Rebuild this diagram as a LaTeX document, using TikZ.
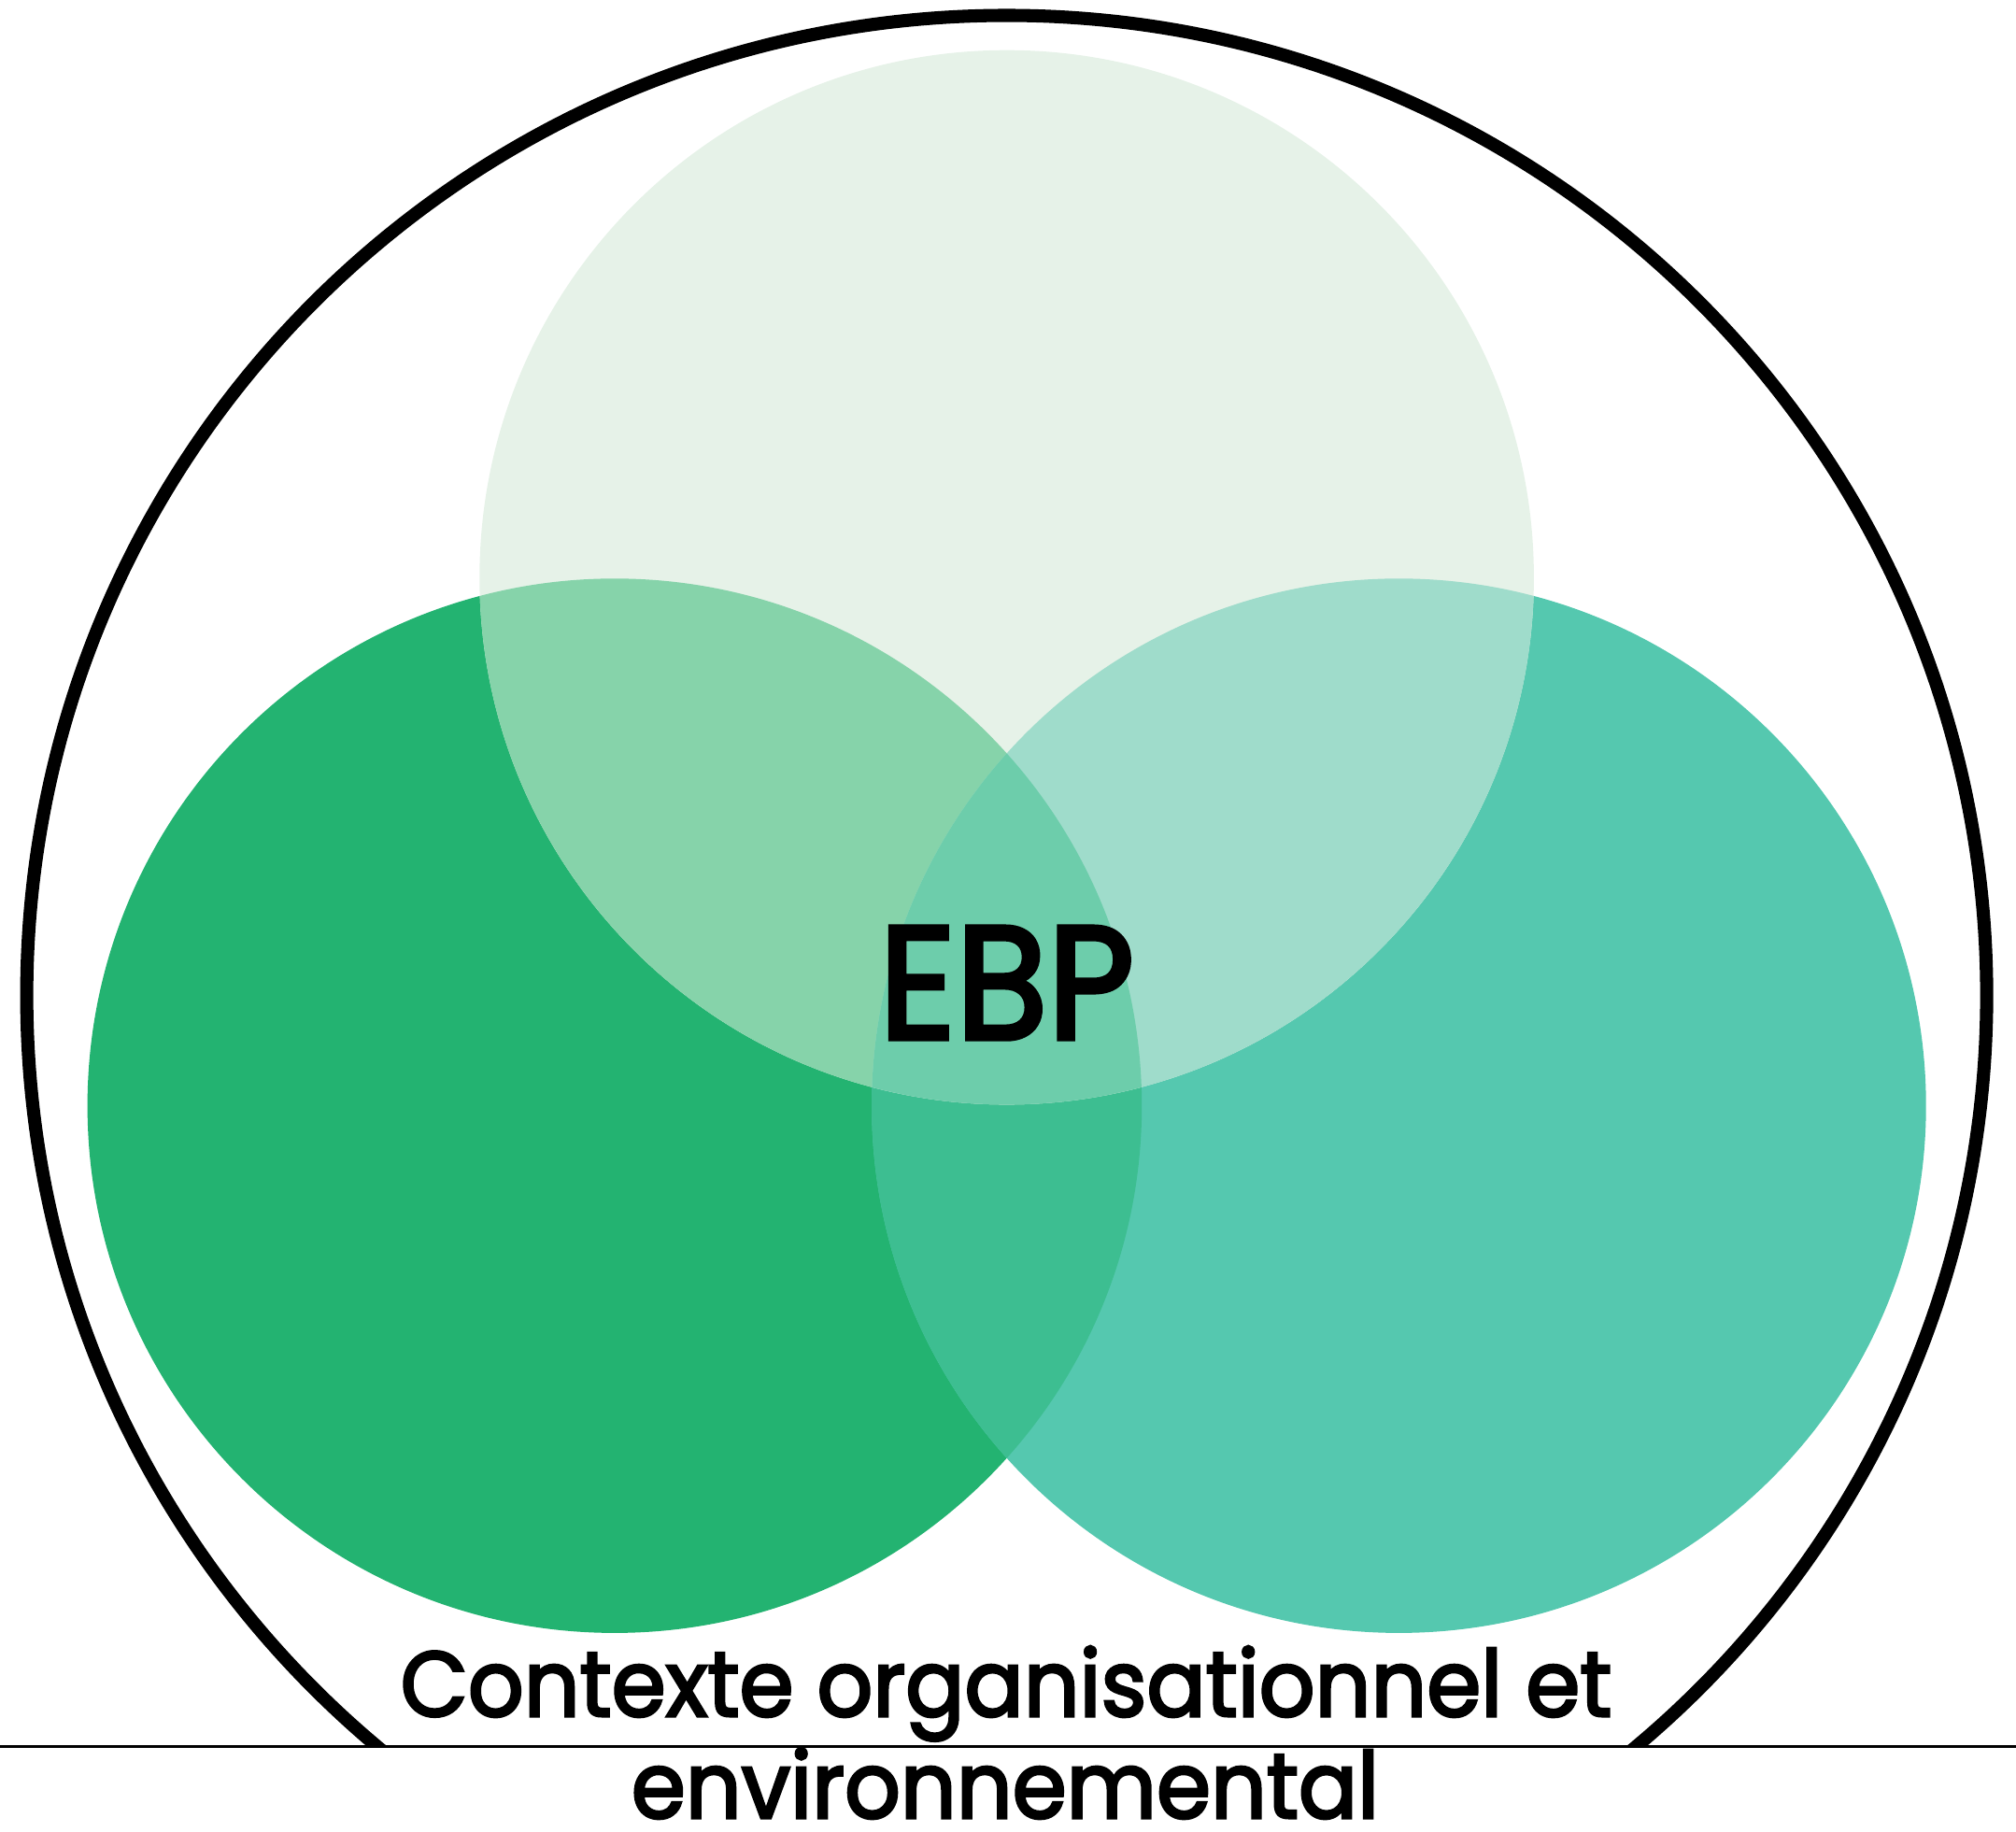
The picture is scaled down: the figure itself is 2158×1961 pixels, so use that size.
\documentclass[tikz,border=0pt]{standalone}
\usepackage{fontspec}
\newfontfamily\rond{Poppins}[FakeBold=3]
\usepackage{tikz}

\definecolor{vertA}{RGB}{35,179,113}
\definecolor{vertB}{RGB}{85,200,175}
\definecolor{vertC}{RGB}{230,242,232}
\definecolor{vertAB}{RGB}{61,190,145}
\definecolor{vertAC}{RGB}{134,211,170}
\definecolor{vertBC}{RGB}{159,220,203}
\definecolor{vertABC}{RGB}{109,205,171}

\tikzset{
  rayon/.style={radius=564.3},
  contour/.style={line width=4pt,black},
  titre/.style={font=\fontsize{49}{58}\rond},
  legende/.style={font=\fontsize{28}{34}\rond,anchor=base,inner sep=0pt}
}

\begin{document}
\begin{tikzpicture}[x=0.01cm,y=-0.01cm]
\useasboundingbox (0,0) rectangle (2158,1961);
\coordinate (gauche) at (657.9,1183.6);
\coordinate (droite) at (1497.4,1183.6);
\coordinate (haut) at (1077.6,618);
\coordinate (milieu) at (1077.6,1065.5);

% cercles
\fill[vertA] (gauche) circle[rayon];
\fill[vertB] (droite) circle[rayon];
\begin{scope}
\clip (gauche) circle[rayon];
\fill[vertAB] (droite) circle[rayon];
\end{scope}
\fill[vertC] (haut) circle[rayon];
\begin{scope}
\clip (haut) circle[rayon];
\fill[vertAC] (gauche) circle[rayon];
\fill[vertBC] (droite) circle[rayon];
\clip (gauche) circle[rayon];
\fill[vertABC] (droite) circle[rayon];
\end{scope}

% contexte
\begin{scope}
\clip (0,0) rectangle (2158,1869);
\draw[contour] (milieu) circle[radius=1049];
\end{scope}
\draw[line width=0.85pt] (0,1869) -- (2158,1869);

\path (1077.6,1052) node(ebp)[titre]{\scalebox{0.93}[1]{EBP}}
(1077,1837) node(ctxa)[legende]{\scalebox{0.95}[1]{Contexte organisationnel et}}
(1076,1946) node(ctxb)[legende]{\scalebox{0.95}[1]{environnemental}};
\end{tikzpicture}
\end{document}
